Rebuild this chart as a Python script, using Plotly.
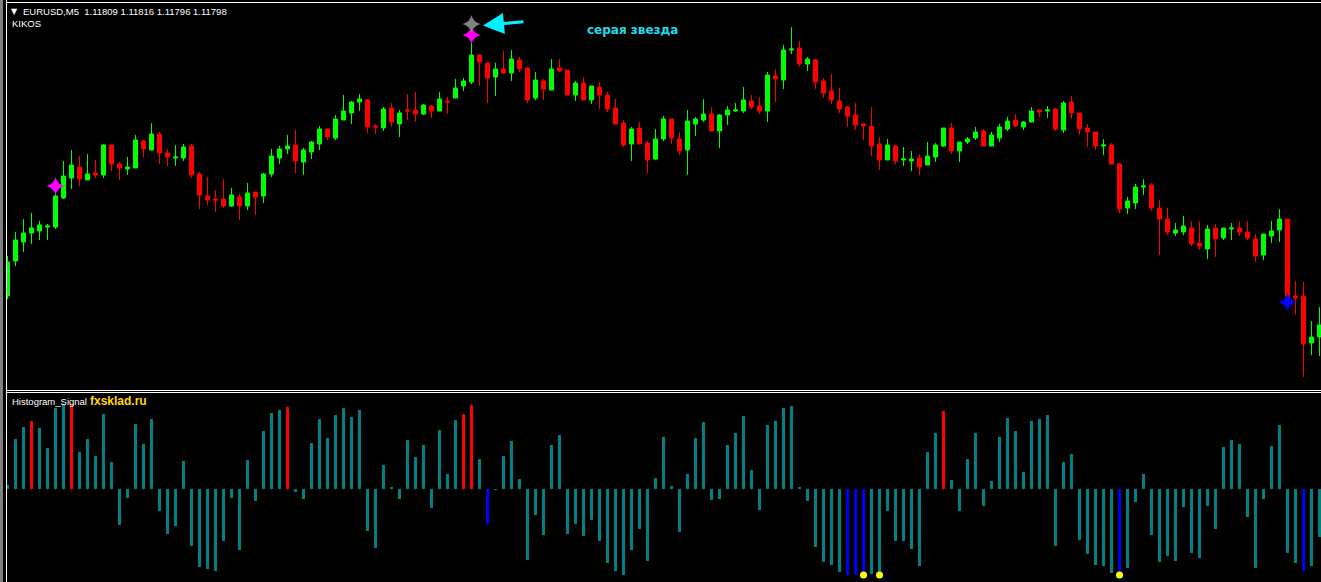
import plotly.graph_objects as go

# ---------------- data ----------------
bar_index = list(range(165))

open_ = [1.11827, 1.11862, 1.11881, 1.11890, 1.11892, 1.11896, 1.11896, 1.11925, 1.11945, 1.11956,
         1.11943, 1.11950, 1.11948, 1.11978, 1.11959, 1.11954, 1.11955, 1.11982, 1.11973, 1.11989,
         1.11970, 1.11965, 1.11965, 1.11977, 1.11949, 1.11927, 1.11924, 1.11924, 1.11917, 1.11926,
         1.11917, 1.11931, 1.11927, 1.11949, 1.11965, 1.11974, 1.11978, 1.11961, 1.11971, 1.11979,
         1.11994, 1.11985, 1.12003, 1.12010, 1.12021, 1.12023, 1.11997, 1.11995, 1.12015, 1.11999,
         1.12013, 1.12013, 1.12009, 1.12017, 1.12012, 1.12022, 1.12025, 1.12037, 1.12041, 1.12068,
         1.12060, 1.12046, 1.12054, 1.12050, 1.12063, 1.12055, 1.12025, 1.12042, 1.12033, 1.12055,
         1.12053, 1.12028, 1.12040, 1.12023, 1.12036, 1.12028, 1.12015, 1.12000, 1.11979, 1.11995,
         1.11980, 1.11964, 1.11984, 1.12004, 1.11984, 1.11973, 1.11999, 1.12003, 1.12009, 1.11992,
         1.12008, 1.12012, 1.12012, 1.12022, 1.12017, 1.12012, 1.12047, 1.12043, 1.12073, 1.12075,
         1.12059, 1.12063, 1.12042, 1.12032, 1.12022, 1.12016, 1.12008, 1.11999, 1.11997, 1.11979,
         1.11963, 1.11977, 1.11963, 1.11962, 1.11965, 1.11958, 1.11966, 1.11977, 1.11995, 1.11972,
         1.11981, 1.11985, 1.11992, 1.11977, 1.11985, 1.11994, 1.12003, 1.11996, 1.12001, 1.12013,
         1.12012, 1.12014, 1.11993, 1.12021, 1.12010, 1.11995, 1.11991, 1.11977, 1.11978, 1.11959,
         1.11915, 1.11920, 1.11936, 1.11938, 1.11915, 1.11904, 1.11890, 1.11891, 1.11895, 1.11880,
         1.11874, 1.11895, 1.11885, 1.11894, 1.11895, 1.11891, 1.11884, 1.11868, 1.11887, 1.11893,
         1.11904, 1.11827, 1.11827, 1.11780, 1.11786]

high = [1.11867, 1.11891, 1.11904, 1.11910, 1.11902, 1.11899, 1.11930, 1.11962, 1.11973, 1.11967,
        1.11969, 1.11963, 1.11979, 1.11978, 1.11961, 1.11966, 1.11988, 1.11983, 1.12000, 1.11991,
        1.11974, 1.11978, 1.11979, 1.11979, 1.11951, 1.11946, 1.11933, 1.11944, 1.11935, 1.11929,
        1.11940, 1.11931, 1.11950, 1.11974, 1.11977, 1.11988, 1.11993, 1.11975, 1.11982, 1.11997,
        1.11994, 1.12008, 1.12028, 1.12022, 1.12029, 1.12024, 1.11999, 1.12016, 1.12020, 1.12013,
        1.12029, 1.12031, 1.12019, 1.12018, 1.12031, 1.12026, 1.12044, 1.12045, 1.12081, 1.12069,
        1.12060, 1.12060, 1.12072, 1.12073, 1.12066, 1.12056, 1.12051, 1.12044, 1.12064, 1.12064,
        1.12053, 1.12042, 1.12046, 1.12037, 1.12041, 1.12031, 1.12024, 1.12003, 1.11996, 1.12001,
        1.11982, 1.11994, 1.12007, 1.12004, 1.11991, 1.12013, 1.12006, 1.12024, 1.12016, 1.12009,
        1.12017, 1.12020, 1.12036, 1.12028, 1.12026, 1.12051, 1.12054, 1.12078, 1.12096, 1.12082,
        1.12066, 1.12064, 1.12045, 1.12049, 1.12035, 1.12017, 1.12020, 1.11999, 1.12016, 1.11986,
        1.11984, 1.11978, 1.11976, 1.11972, 1.11969, 1.11981, 1.11980, 1.11995, 1.12000, 1.11981,
        1.11986, 1.11996, 1.11994, 1.11991, 1.11999, 1.12006, 1.12009, 1.12002, 1.12016, 1.12013,
        1.12017, 1.12015, 1.12022, 1.12027, 1.12010, 1.11999, 1.11991, 1.11984, 1.11980, 1.11960,
        1.11926, 1.11939, 1.11944, 1.11940, 1.11923, 1.11915, 1.11900, 1.11907, 1.11902, 1.11902,
        1.11898, 1.11899, 1.11895, 1.11900, 1.11902, 1.11902, 1.11889, 1.11889, 1.11902, 1.11914,
        1.11904, 1.11842, 1.11841, 1.11802, 1.11816]

low = [1.11824, 1.11857, 1.11871, 1.11879, 1.11883, 1.11883, 1.11894, 1.11924, 1.11934, 1.11937,
       1.11943, 1.11945, 1.11945, 1.11952, 1.11943, 1.11948, 1.11955, 1.11966, 1.11973, 1.11959,
       1.11957, 1.11957, 1.11962, 1.11945, 1.11914, 1.11918, 1.11911, 1.11915, 1.11916, 1.11903,
       1.11913, 1.11908, 1.11920, 1.11946, 1.11959, 1.11969, 1.11950, 1.11948, 1.11964, 1.11973,
       1.11983, 1.11983, 1.12003, 1.11999, 1.12012, 1.11990, 1.11989, 1.11992, 1.11996, 1.11986,
       1.12003, 1.12001, 1.12008, 1.12005, 1.12012, 1.12009, 1.12025, 1.12032, 1.12039, 1.12037,
       1.12020, 1.12027, 1.12049, 1.12042, 1.12051, 1.12020, 1.12023, 1.12023, 1.12033, 1.12051,
       1.12028, 1.12022, 1.12023, 1.12019, 1.12014, 1.12011, 1.11998, 1.11976, 1.11962, 1.11979,
       1.11950, 1.11963, 1.11982, 1.11979, 1.11968, 1.11948, 1.11987, 1.12001, 1.11992, 1.11975,
       1.11998, 1.12011, 1.12010, 1.12014, 1.12009, 1.12001, 1.12021, 1.12034, 1.12069, 1.12056,
       1.12052, 1.12034, 1.12025, 1.12019, 1.12010, 1.11996, 1.11993, 1.11983, 1.11967, 1.11953,
       1.11963, 1.11959, 1.11957, 1.11952, 1.11948, 1.11958, 1.11961, 1.11976, 1.11969, 1.11961,
       1.11979, 1.11983, 1.11977, 1.11977, 1.11981, 1.11992, 1.11996, 1.11993, 1.12001, 1.12006,
       1.12005, 1.11992, 1.11990, 1.12004, 1.11988, 1.11976, 1.11973, 1.11968, 1.11958, 1.11910,
       1.11909, 1.11914, 1.11928, 1.11912, 1.11868, 1.11888, 1.11887, 1.11888, 1.11877, 1.11873,
       1.11864, 1.11866, 1.11883, 1.11883, 1.11887, 1.11883, 1.11861, 1.11863, 1.11880, 1.11881,
       1.11826, 1.11808, 1.11746, 1.11768, 1.11767]

close = [1.11861, 1.11883, 1.11890, 1.11895, 1.11898, 1.11897, 1.11927, 1.11947, 1.11958, 1.11944,
         1.11949, 1.11948, 1.11978, 1.11959, 1.11955, 1.11956, 1.11983, 1.11974, 1.11989, 1.11970,
         1.11966, 1.11966, 1.11976, 1.11948, 1.11928, 1.11923, 1.11923, 1.11917, 1.11928, 1.11917,
         1.11930, 1.11926, 1.11949, 1.11967, 1.11974, 1.11977, 1.11962, 1.11973, 1.11981, 1.11994,
         1.11986, 1.12004, 1.12012, 1.12021, 1.12024, 1.11996, 1.11996, 1.12014, 1.12001, 1.12010,
         1.12012, 1.12009, 1.12018, 1.12012, 1.12024, 1.12021, 1.12035, 1.12042, 1.12068, 1.12061,
         1.12045, 1.12054, 1.12050, 1.12064, 1.12054, 1.12023, 1.12043, 1.12034, 1.12054, 1.12052,
         1.12028, 1.12040, 1.12023, 1.12037, 1.12028, 1.12014, 1.11999, 1.11978, 1.11994, 1.11979,
         1.11963, 1.11984, 1.12004, 1.11985, 1.11972, 1.12002, 1.12004, 1.12009, 1.11992, 1.12008,
         1.12013, 1.12013, 1.12023, 1.12016, 1.12012, 1.12048, 1.12044, 1.12073, 1.12074, 1.12059,
         1.12064, 1.12041, 1.12030, 1.12023, 1.12014, 1.12007, 1.11998, 1.11997, 1.11977, 1.11963,
         1.11978, 1.11962, 1.11964, 1.11964, 1.11956, 1.11967, 1.11978, 1.11995, 1.11972, 1.11981,
         1.11984, 1.11991, 1.11977, 1.11988, 1.11996, 1.12002, 1.11997, 1.12001, 1.12012, 1.12011,
         1.12013, 1.11994, 1.12020, 1.12010, 1.11994, 1.11991, 1.11977, 1.11978, 1.11959, 1.11914,
         1.11922, 1.11936, 1.11937, 1.11915, 1.11904, 1.11891, 1.11893, 1.11897, 1.11879, 1.11877,
         1.11894, 1.11884, 1.11895, 1.11895, 1.11891, 1.11885, 1.11867, 1.11889, 1.11892, 1.11904,
         1.11826, 1.11825, 1.11779, 1.11786, 1.11798]

hist = [0.04, 0.50, 0.62, 0.68, 0.61, 0.41, 0.81, 0.85, 0.85, 0.37,
        0.50, 0.33, 0.75, 0.27, -0.36, -0.09, 0.65, 0.45, 0.70, -0.22,
        -0.45, -0.37, 0.28, -0.57, -0.78, -0.80, -0.82, -0.52, -0.09, -0.61,
        0.29, -0.12, 0.58, 0.76, 0.79, 0.82, -0.03, -0.10, 0.46, 0.70,
        0.51, 0.74, 0.81, 0.72, 0.79, -0.42, -0.59, 0.24, 0.02, -0.10,
        0.49, 0.32, 0.44, -0.19, 0.59, 0.15, 0.69, 0.75, 0.84, 0.30,
        -0.35, -0.01, 0.33, 0.48, 0.10, -0.71, -0.26, -0.46, 0.44, 0.54,
        -0.45, -0.35, -0.47, -0.31, -0.52, -0.74, -0.82, -0.86, -0.61, -0.40,
        -0.72, 0.11, 0.52, 0.03, -0.43, 0.15, 0.51, 0.67, -0.11, -0.10,
        0.44, 0.56, 0.73, 0.19, -0.21, 0.64, 0.68, 0.81, 0.83, 0.02,
        -0.12, -0.58, -0.73, -0.76, -0.83, -0.86, -0.86, -0.86, -0.85, -0.83,
        -0.22, -0.52, -0.52, -0.60, -0.77, 0.37, 0.56, 0.78, 0.09, -0.22,
        0.30, 0.56, -0.17, 0.08, 0.52, 0.71, 0.58, 0.17, 0.68, 0.70,
        0.74, -0.57, 0.27, 0.35, -0.51, -0.65, -0.76, -0.77, -0.84, -0.84,
        -0.79, -0.13, 0.15, -0.46, -0.73, -0.67, -0.72, -0.18, -0.64, -0.69,
        -0.17, -0.40, 0.42, 0.49, 0.45, -0.28, -0.79, -0.10, 0.43, 0.64,
        -0.64, -0.74, -0.82, -0.77, -0.48]

sell_signal_bars = [3, 8, 35, 57, 58, 117]          # red histogram bars
buy_signal_bars = [60, 105, 106, 107, 139, 162]     # blue histogram bars
dot_bars = [107, 109, 139]
dot_level = [-0.86, -0.86, -0.86]

magenta_star_bars = [6, 58]
magenta_star_price = [1.11937, 1.12088]
gray_star_bars = [58]
gray_star_price = [1.12099]
blue_star_bars = [160]
blue_star_price = [1.11821]

header = "EURUSD,M5  1.11809 1.11816 1.11796 1.11798"

# ---------------- figure ----------------
W, H = 1321, 582
def px_x(p):
    return p / W
def px_y(p):
    return 1 - p / H

TEAL = "#008080"
bar_colors = []
for i in bar_index:
    if i in sell_signal_bars:
        bar_colors.append("#FF0000")
    elif i in buy_signal_bars:
        bar_colors.append("#0000FF")
    else:
        bar_colors.append(TEAL)

fig = go.Figure()

fig.add_trace(go.Candlestick(
    x=bar_index, open=open_, high=high, low=low, close=close,
    increasing=dict(line=dict(color="#00FF00", width=1), fillcolor="#00FF00"),
    decreasing=dict(line=dict(color="#FF0000", width=1), fillcolor="#FF0000"),
    whiskerwidth=0, showlegend=False, xaxis="x", yaxis="y", name="EURUSD"))

star_size = 13
fig.add_trace(go.Scatter(
    x=magenta_star_bars, y=magenta_star_price, mode="markers",
    marker=dict(symbol="star-diamond", size=star_size, color="#FF00FF", line=dict(width=0)),
    showlegend=False, xaxis="x", yaxis="y"))
fig.add_trace(go.Scatter(
    x=gray_star_bars, y=gray_star_price, mode="markers",
    marker=dict(symbol="star-diamond", size=star_size, color="#808080", line=dict(width=0)),
    showlegend=False, xaxis="x", yaxis="y"))
fig.add_trace(go.Scatter(
    x=blue_star_bars, y=blue_star_price, mode="markers",
    marker=dict(symbol="star-diamond", size=star_size, color="#0000FF", line=dict(width=0)),
    showlegend=False, xaxis="x", yaxis="y"))

fig.add_trace(go.Bar(
    x=bar_index, y=hist, width=0.375, marker=dict(color=bar_colors, line=dict(width=0)),
    showlegend=False, xaxis="x2", yaxis="y2", name="Histogram_Signal"))

fig.add_trace(go.Scatter(
    x=dot_bars, y=dot_level, mode="markers",
    marker=dict(symbol="circle", size=7, color="#FFFF00", line=dict(width=0)),
    showlegend=False, xaxis="x2", yaxis="y2"))

xrange = [-0.0625, 164.1875]
fig.update_layout(
    width=W, height=H,
    margin=dict(l=0, r=0, t=0, b=0),
    paper_bgcolor="#000000", plot_bgcolor="#000000",
    boxgap=0.5, boxgroupgap=0, bargap=0,
    xaxis=dict(domain=[px_x(7), 1], range=xrange, visible=False,
               rangeslider=dict(visible=False), anchor="y"),
    yaxis=dict(domain=[px_y(389), px_y(3)], range=[1.11734, 1.12120], visible=False, anchor="x"),
    xaxis2=dict(domain=[px_x(7), 1], range=xrange, visible=False, anchor="y2"),
    yaxis2=dict(domain=[0, px_y(393)], range=[-0.93, 0.96], visible=False, anchor="x2"),
    hovermode=False,
)

# window borders
shapes = [
    dict(type="rect", xref="paper", yref="paper", x0=0, x1=px_x(3), y0=0, y1=1,
         fillcolor="#808080", line=dict(width=0)),
    dict(type="line", xref="paper", yref="paper", x0=px_x(6.5), x1=px_x(6.5), y0=0, y1=1,
         line=dict(color="#FFFFFF", width=1)),
    dict(type="line", xref="paper", yref="paper", x0=px_x(6), x1=1, y0=px_y(2.5), y1=px_y(2.5),
         line=dict(color="#FFFFFF", width=1)),
    dict(type="line", xref="paper", yref="paper", x0=px_x(6), x1=1, y0=px_y(390.5), y1=px_y(390.5),
         line=dict(color="#FFFFFF", width=1)),
    dict(type="line", xref="paper", yref="paper", x0=px_x(6), x1=1, y0=px_y(392.5), y1=px_y(392.5),
         line=dict(color="#FFFFFF", width=1)),
]
fig.update_layout(shapes=shapes)

small = dict(family="Liberation Sans, Arial, sans-serif", size=9.5, color="#FFFFFF")
annotations = [
    dict(text="▼", x=px_x(9), y=px_y(11), xref="paper", yref="paper", xanchor="left",
         yanchor="middle", showarrow=False, font=dict(family="DejaVu Sans", size=8, color="#FFFFFF")),
    dict(text=header.replace("  ", "&nbsp;&nbsp;"), x=px_x(21), y=px_y(11), xref="paper", yref="paper",
         xanchor="left", yanchor="middle", showarrow=False, font=small),
    dict(text="KIKOS", x=px_x(10), y=px_y(24), xref="paper", yref="paper",
         xanchor="left", yanchor="middle", showarrow=False, font=small),
    dict(text="серая звезда", x=px_x(585), y=px_y(30), xref="paper", yref="paper",
         xanchor="left", yanchor="middle", showarrow=False,
         font=dict(family="DejaVu Sans", size=12, color="#1FDCEC", weight="bold")),
    dict(text="", x=px_x(483), y=px_y(25.5), xref="paper", yref="paper",
         ax=42, ay=-4, axref="pixel", ayref="pixel", showarrow=True,
         arrowhead=2, arrowsize=1.4, arrowwidth=3, arrowcolor="#00F0FF"),
    dict(text="Histogram_Signal", x=px_x(10), y=px_y(401), xref="paper", yref="paper",
         xanchor="left", yanchor="middle", showarrow=False, font=small),
    dict(text="<b>fxsklad.ru</b>", x=px_x(88), y=px_y(401), xref="paper", yref="paper",
         xanchor="left", yanchor="middle", showarrow=False,
         font=dict(family="Liberation Sans, Arial, sans-serif", size=12, color="#FFD700")),
]
fig.update_layout(annotations=annotations)

fig.write_html(
    "out.html",
    config={"displayModeBar": False, "staticPlot": True},
    post_script="document.body.style.margin='0';document.body.style.overflow='hidden';",
)
